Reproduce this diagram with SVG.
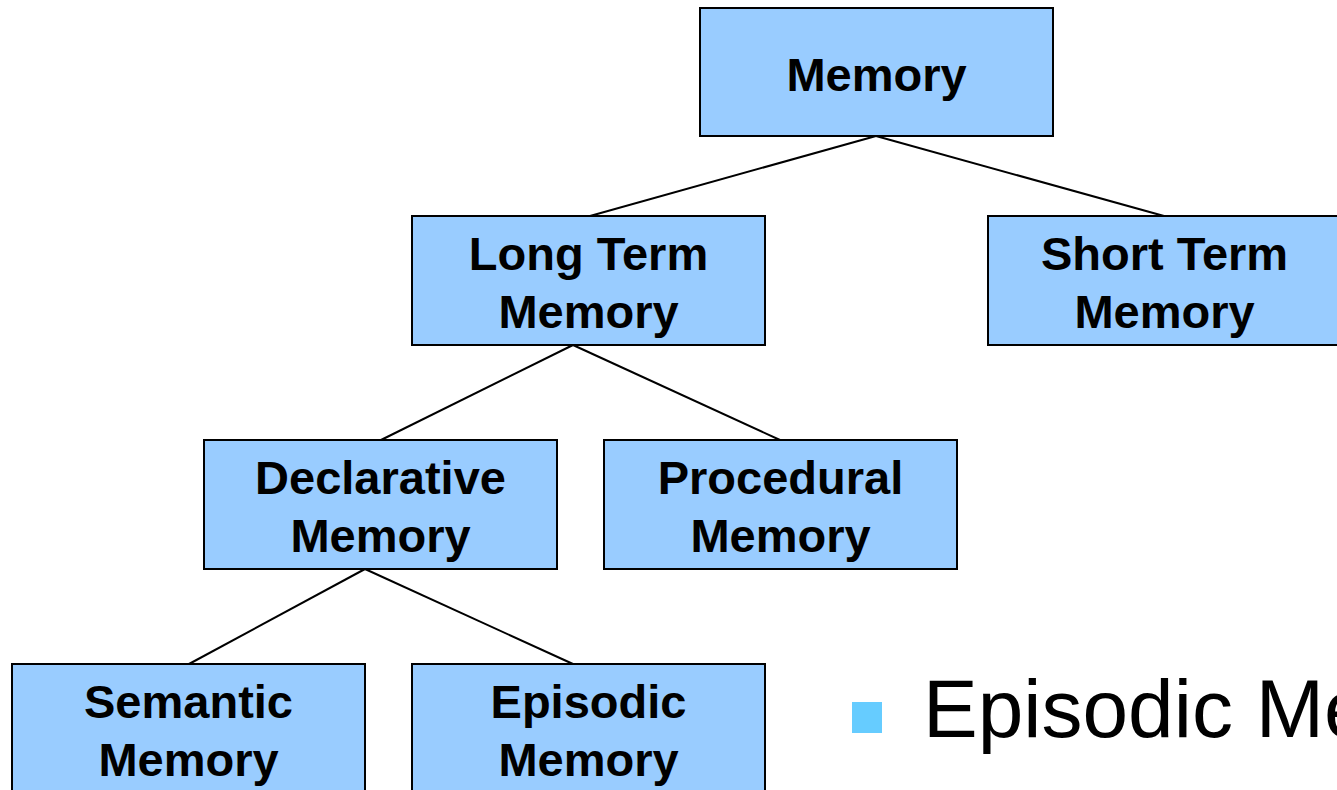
<svg xmlns="http://www.w3.org/2000/svg" width="1337" height="790" viewBox="0 0 1337 790">
  <style>
    .box { fill: #99CCFF; stroke: #000; stroke-width: 2; }
    .lbl { font-family: "Liberation Sans", Arial, sans-serif; font-weight: bold; font-size: 47px; fill: #000; text-anchor: middle; }
    .edge { stroke: #000; stroke-width: 2; fill: none; }
    .bullet-text { font-family: "Liberation Sans", Arial, sans-serif; font-size: 82px; fill: #000; }
  </style>
  <rect width="1337" height="790" fill="#fff"/>

  <g id="connectors">
    <line class="edge" x1="876" y1="136" x2="590" y2="216"/>
    <line class="edge" x1="876" y1="136" x2="1164" y2="216"/>
    <line class="edge" x1="573" y1="345" x2="381" y2="440"/>
    <line class="edge" x1="573" y1="345" x2="780" y2="440"/>
    <line class="edge" x1="365" y1="569" x2="189" y2="664"/>
    <line class="edge" x1="365" y1="569" x2="573" y2="664"/>
  </g>

  <g id="memory">
    <rect class="box" x="700" y="8" width="353" height="128"/>
    <text class="lbl" x="876.5" y="91">Memory</text>
  </g>

  <g id="long-term">
    <rect class="box" x="412" y="216" width="353" height="129"/>
    <text class="lbl" x="588.5" y="270">Long Term</text>
    <text class="lbl" x="588.5" y="328">Memory</text>
  </g>

  <g id="short-term">
    <rect class="box" x="988" y="216" width="353" height="129"/>
    <text class="lbl" x="1164.5" y="270">Short Term</text>
    <text class="lbl" x="1164.5" y="328">Memory</text>
  </g>

  <g id="declarative">
    <rect class="box" x="204" y="440" width="353" height="129"/>
    <text class="lbl" x="380.5" y="494">Declarative</text>
    <text class="lbl" x="380.5" y="552">Memory</text>
  </g>

  <g id="procedural">
    <rect class="box" x="604" y="440" width="353" height="129"/>
    <text class="lbl" x="780.5" y="494">Procedural</text>
    <text class="lbl" x="780.5" y="552">Memory</text>
  </g>

  <g id="semantic">
    <rect class="box" x="12" y="664" width="353" height="140"/>
    <text class="lbl" x="188.5" y="718">Semantic</text>
    <text class="lbl" x="188.5" y="776">Memory</text>
  </g>

  <g id="episodic">
    <rect class="box" x="412" y="664" width="353" height="140"/>
    <text class="lbl" x="588.5" y="718">Episodic</text>
    <text class="lbl" x="588.5" y="776">Memory</text>
  </g>

  <g id="bullet">
    <rect x="852" y="702" width="30" height="31" fill="#66CCFF"/>
    <text class="bullet-text" x="923" y="737">Episodic Memory</text>
  </g>
</svg>
